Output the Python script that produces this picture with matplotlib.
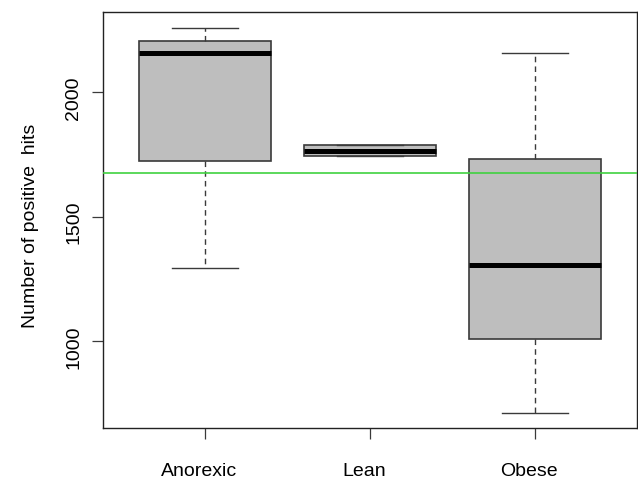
import matplotlib as mpl
mpl.rcParams["font.family"] = ["Liberation Sans", "DejaVu Sans"]

import matplotlib.pyplot as plt
from matplotlib.transforms import ScaledTranslation

# box statistics
GROUPS = ["Anorexic", "Lean", "Obese"]
MEDIAN = [2156, 1765, 1306]
Q1 = [1723, 1745, 1010]
Q3 = [2206, 1786, 1731]
WHISK_LO = [1294, 1744, 713]
WHISK_HI = [2257, 1787, 2156]
REF_LINE = 1676

BOX_FILL = "#bebebe"
EDGE = "#3a3a3a"
GREEN = "#3fd23f"

fig = plt.figure(figsize=(6.38, 4.8), dpi=100)
ax = fig.add_axes([103 / 638, 1 - 428 / 480, 534 / 638, 416 / 480])

stats = []
for g, m, lo, hi, wl, wh in zip(GROUPS, MEDIAN, Q1, Q3, WHISK_LO, WHISK_HI):
    stats.append(dict(label=g, med=m, q1=lo, q3=hi, whislo=wl, whishi=wh, fliers=[]))

ax.bxp(stats, positions=[1, 2, 3], widths=0.8, patch_artist=True,
       showfliers=False,
       boxprops=dict(facecolor=BOX_FILL, edgecolor=EDGE, linewidth=1.2),
       medianprops=dict(color="black", linewidth=3.6, solid_capstyle="butt"),
       whiskerprops=dict(color=EDGE, linewidth=1.0, linestyle=(0, (4, 3))),
       capprops=dict(color=EDGE, linewidth=1.0),
       capwidths=0.4)

ax.axhline(REF_LINE, color=GREEN, linewidth=1.2, zorder=3)

ax.set_xlim(0.38, 3.62)
ax.set_ylim(652, 2321)
ax.set_yticks([1000, 1500, 2000])
ax.set_yticklabels(["1000", "1500", "2000"], rotation=90, va="center")
ax.set_xticks([1, 2, 3])
ax.set_xticklabels(GROUPS)
ax.tick_params(axis="y", length=8, width=0.9, pad=7, labelsize=14, color=EDGE)
ax.tick_params(axis="x", length=8, width=0.9, pad=17, labelsize=14, color=EDGE)
ax.set_ylabel("Number of positive  hits", fontsize=14, labelpad=19)

# the reference's text sits a few pixels off its ticks
down = ScaledTranslation(0, -0.06, fig.dpi_scale_trans)
left = ScaledTranslation(-0.06, 0, fig.dpi_scale_trans)
for t in ax.get_yticklabels():
    t.set_transform(t.get_transform() + down)
for t in ax.get_xticklabels():
    t.set_transform(t.get_transform() + left)
ax.yaxis.label.set_transform(ax.yaxis.label.get_transform() + down)

for s in ax.spines.values():
    s.set_linewidth(1.0)
    s.set_color("#222222")

fig.savefig("out.png", dpi=100, facecolor="white")
